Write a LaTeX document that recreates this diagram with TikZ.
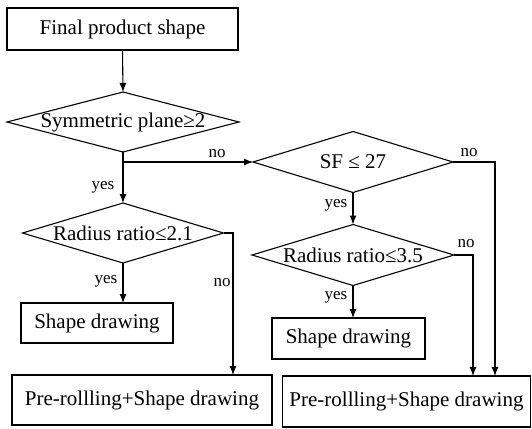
\documentclass[tikz,border=0pt]{standalone}
\usepackage{fontspec}
\setmainfont{Liberation Serif}
\usetikzlibrary{shapes.geometric,arrows.meta}
\begin{document}
\begin{tikzpicture}[x=1pt,y=-1pt,
  every node/.style={inner sep=0pt, outer sep=0pt},
  stepbox/.style={draw, line width=1.1pt, font=\fontsize{21}{25}\selectfont},
  decision/.style={draw, diamond, line width=1.1pt, inner sep=0pt, aspect=1, font=\fontsize{21}{25}\selectfont},
  lbl/.style={font=\fontsize{17}{20}\selectfont},
  conn/.style={line width=1.1pt},
  arr/.style={line width=1.1pt, -{Latex[length=9pt,width=7pt]}}]
\useasboundingbox (0,0) rectangle (532,428);
% boxes
\node[stepbox, minimum width=231pt, minimum height=42pt] (start) at (122.5,29) {Final product shape};
\node[decision, minimum width=232pt, minimum height=60pt, label={center:\fontsize{21}{25}\selectfont Symmetric plane≥2}] (d1) at (123,122) {};
\coordinate (b1) at (123,162);
\node[decision, minimum width=201pt, minimum height=60pt, label={center:\fontsize{21}{25}\selectfont Radius ratio≤2.1}] (d2) at (123,233) {};
\node[decision, minimum width=200pt, minimum height=61pt, label={center:\fontsize{21}{25}\selectfont SF ≤ 27}] (d3) at (353,162) {};
\node[decision, minimum width=202pt, minimum height=61pt, label={center:\fontsize{21}{25}\selectfont Radius ratio≤3.5}] (d4) at (353,255) {};
\node[stepbox, minimum width=152pt, minimum height=40pt] (sd1) at (97,323) {Shape drawing};
\node[stepbox, minimum width=153pt, minimum height=41pt] (sd2) at (348.5,338.5) {Shape drawing};
\node[stepbox, minimum width=260pt, minimum height=50pt] (pl) at (142,400) {Pre-rollling+Shape drawing};
\node[stepbox, minimum width=248pt, minimum height=51pt] (pr) at (406.5,401.5) {Pre-rollling+Shape drawing};
% corner coordinates
\coordinate (c2) at (233,233);
\coordinate (c3) at (495,162);
\coordinate (c4) at (473,255);
% connectors
\draw[arr] (start.south) -- (d1.north);
\draw[conn] (d1.south) -- (b1);
\draw[arr] (b1) -- (d2.north);
\draw[arr] (b1) -- (d3.west);
\draw[arr] (d2.south) -- (d2.south |- sd1.north);
\draw[arr] (d2.east) -- (c2) -- (c2 |- pl.north);
\draw[arr] (d3.south) -- (d4.north);
\draw[arr] (d3.east) -- (c3) -- (c3 |- pr.north);
\draw[arr] (d4.east) -- (c4) -- (c4 |- pr.north);
\draw[arr] (d4.south) -- (d4.south |- sd2.north);
% labels
\node[lbl] (y1) at (103,187) {yes};
\node[lbl] (n1) at (217,154) {no};
\node[lbl] (y2) at (106,281) {yes};
\node[lbl] (n2) at (222,283) {no};
\node[lbl] (y3) at (336,205) {yes};
\node[lbl] (n3) at (469,153) {no};
\node[lbl] (y4) at (336,297) {yes};
\node[lbl] (n4) at (466,244) {no};
\end{tikzpicture}
\end{document}
